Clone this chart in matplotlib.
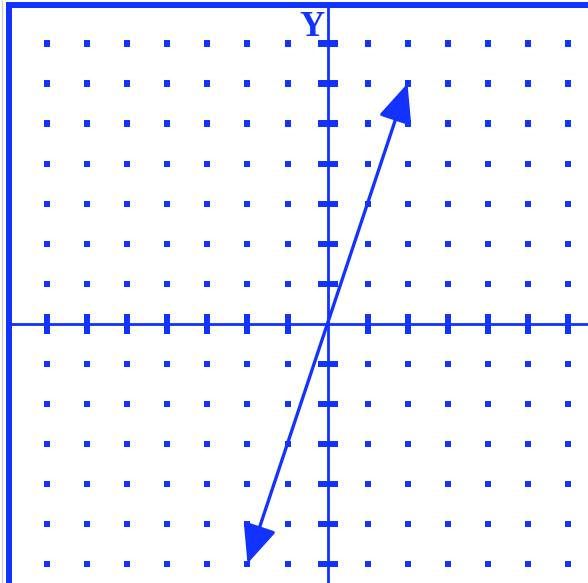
import matplotlib
matplotlib.use("Agg")
import matplotlib.pyplot as plt
from matplotlib.patches import FancyArrowPatch, Rectangle
import numpy as np

# Data
grid_x = [-7, -6, -5, -4, -3, -2, -1, 1, 2, 3, 4, 5, 6]
grid_y = [-6, -5, -4, -3, -2, -1, 1, 2, 3, 4, 5, 6, 7]
line_x = [-2, 2]
line_y = [-6, 6]
axis_label = "Y"

BLUE = "#1232ff"
DPI = 100
W, H = 588, 583
U = 40.0  # pixels per unit
X0, Y0 = 327.5, 323.5  # origin pixel

fig = plt.figure(figsize=(W / DPI, H / DPI), dpi=DPI)
ax = fig.add_axes([0, 0, 1, 1])
ax.set_xlim(-X0 / U, (W - X0) / U)
ax.set_ylim(-(H - Y0) / U, Y0 / U)
ax.axis("off")

def px(n):
    return n / U

# light gray line at far left
ax.plot([(2.5 - X0) / U] * 2, [-(H - Y0) / U, Y0 / U], color="#cccccc", lw=1.2 * 72 / DPI, solid_capstyle="butt")

# borders
left_x = (9 - X0) / U
top_y = (Y0 - 5) / U
ax.plot([left_x, left_x], [-(H - Y0) / U, top_y + px(3)], color=BLUE, lw=6 * 72 / DPI, solid_capstyle="butt")
ax.plot([left_x - px(3), (W - X0) / U], [top_y, top_y], color=BLUE, lw=6 * 72 / DPI, solid_capstyle="butt")

# axes
ax.plot([0, 0], [-(H - Y0) / U, top_y], color=BLUE, lw=2.8 * 72 / DPI, solid_capstyle="butt")
ax.plot([left_x, (W - X0) / U], [0, 0], color=BLUE, lw=2.8 * 72 / DPI, solid_capstyle="butt")

# dots
gx, gy = np.meshgrid(grid_x, grid_y)
for x, y in zip(gx.ravel(), gy.ravel()):
    ax.add_patch(Rectangle((x - px(3), y - px(3)), px(6), px(6), color=BLUE, lw=0))

# ticks on axes
for x in grid_x:
    ax.add_patch(Rectangle((x - px(3), -px(10)), px(6), px(20), color=BLUE, lw=0))
for y in grid_y:
    ax.add_patch(Rectangle((-px(10), y - px(3)), px(20), px(6), color=BLUE, lw=0))

# line with arrows
arr = FancyArrowPatch((line_x[0], line_y[0]), (line_x[1], line_y[1]),
                      arrowstyle="<|-|>,head_length=24,head_width=10.5",
                      mutation_scale=1, shrinkA=0, shrinkB=0,
                      color=BLUE, lw=3.3 * 72 / DPI)
ax.add_patch(arr)

# label
ax.text((312 - X0) / U, (Y0 - 27) / U, axis_label, color=BLUE,
        family="Liberation Serif", fontweight="bold", fontsize=25, ha="center", va="center")

fig.savefig("out.png", dpi=DPI)
